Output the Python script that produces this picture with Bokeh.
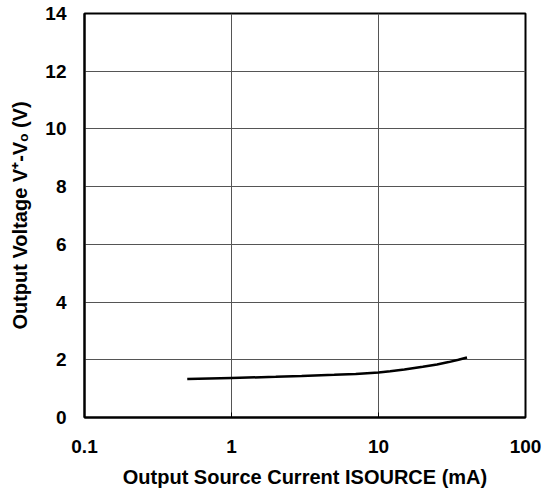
from bokeh.plotting import figure
from bokeh.models import FixedTicker, Range1d
from bokeh.embed import file_html
from bokeh.resources import INLINE

# ---- data ----
current_ma = [0.5, 1, 2, 3, 5, 7, 10, 12, 15, 20, 25, 30, 35, 40]
voltage_v = [1.33, 1.37, 1.41, 1.44, 1.48, 1.51, 1.56, 1.60, 1.66, 1.76, 1.84, 1.92, 2.00, 2.08]
x_ticks = [0.1, 1, 10, 100]
x_tick_labels = ["0.1", "1", "10", "100"]
y_ticks = [0, 2, 4, 6, 8, 10, 12, 14]

FONT = "Liberation Sans"

p = figure(width=542, height=492, x_axis_type="log",
           x_range=Range1d(0.1, 100), y_range=Range1d(0, 14),
           output_backend="svg", toolbar_location=None,
           min_border_left=84, min_border_right=17,
           min_border_top=13, min_border_bottom=75)

p.line(current_ma, voltage_v, line_color="black", line_width=2.5)

p.xaxis.ticker = FixedTicker(ticks=x_ticks, minor_ticks=[])
p.xaxis.major_label_overrides = {t: s for t, s in zip(x_ticks, x_tick_labels)}
p.yaxis.ticker = FixedTicker(ticks=y_ticks, minor_ticks=[])

for ax in p.axis:
    ax.major_label_text_font = FONT
    ax.major_label_text_font_style = "bold"
    ax.major_label_text_font_size = "19px"
    ax.major_label_text_color = "black"
    ax.major_tick_out = 0
    ax.minor_tick_in = 0
    ax.minor_tick_out = 0
    ax.axis_line_color = "black"
    ax.axis_line_width = 2
    ax.major_tick_line_color = "black"
    ax.axis_label_text_font = FONT
    ax.axis_label_text_font_style = "bold"
    ax.axis_label_text_font_size = "20px"
    ax.axis_label_text_color = "black"

p.xaxis.major_tick_in = 5
p.yaxis.major_tick_in = 0
p.xaxis.major_label_standoff = 22
p.yaxis.major_label_standoff = 18

p.yaxis.axis_label = "Output Voltage V\u207a-V\u2092 (V)"
p.yaxis.axis_label_standoff = 11
p.xaxis.axis_label = "Output Source Current ISOURCE (mA)"
p.xaxis.axis_label_standoff = 10

p.grid.grid_line_color = "#555555"
p.grid.grid_line_width = 1
p.outline_line_color = "black"
p.outline_line_width = 2
p.outline_line_alpha = 1.0

open("out.html", "w").write(file_html(p, INLINE))
